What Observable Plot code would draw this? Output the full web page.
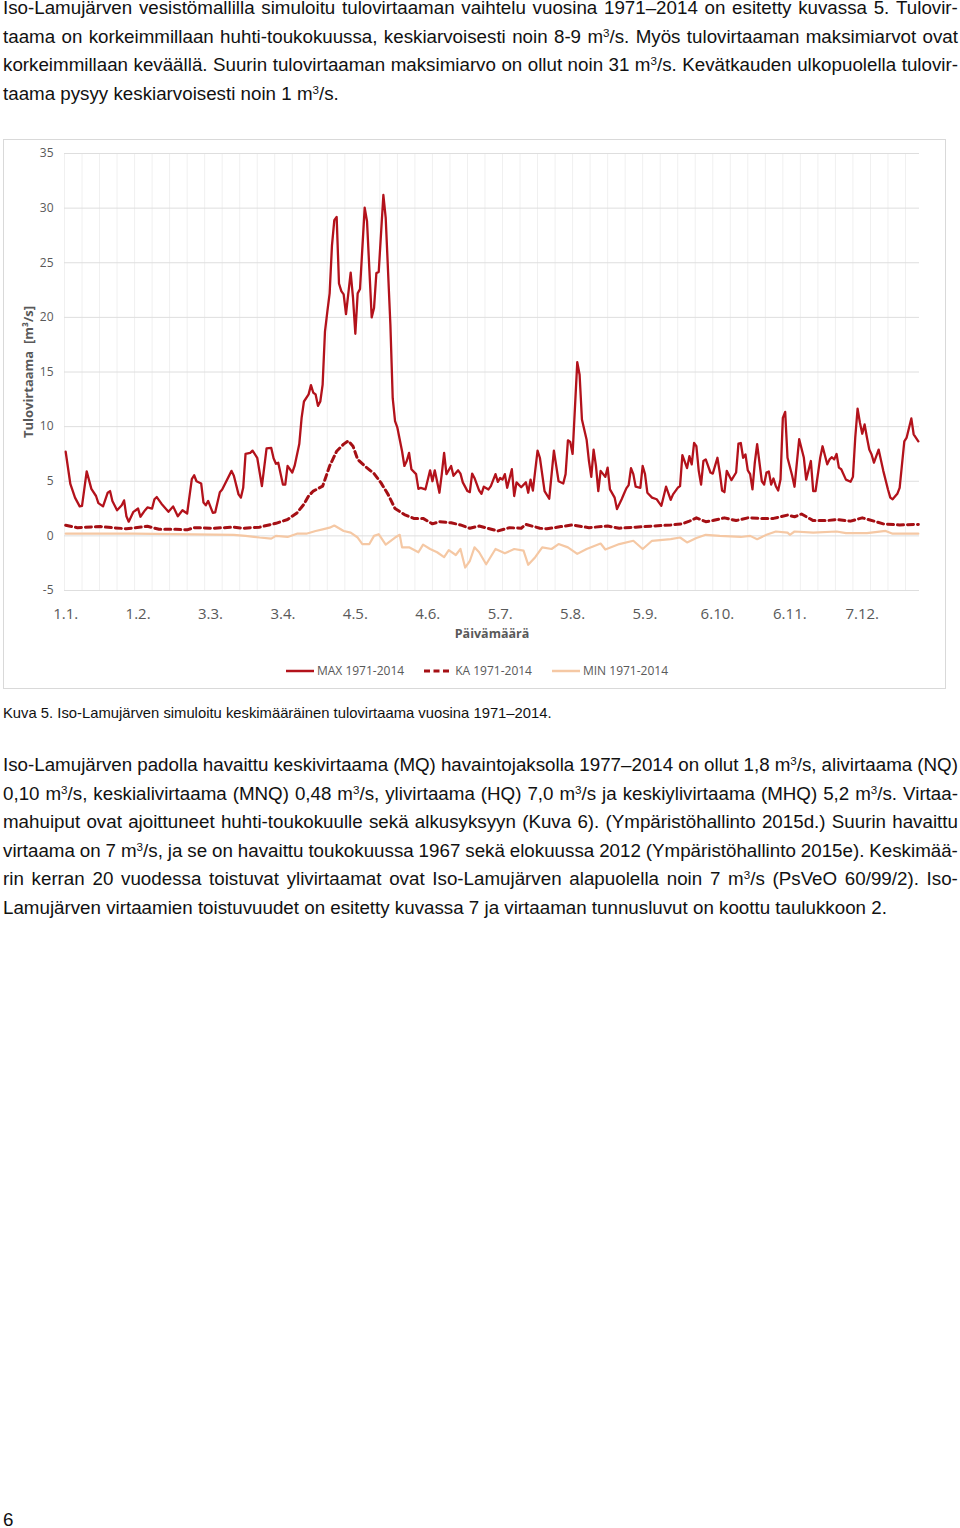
<!DOCTYPE html>
<html><head><meta charset="utf-8">
<script src="https://cdn.jsdelivr.net/npm/d3@7"></script>
<script src="https://cdn.jsdelivr.net/npm/@observablehq/plot@0.6"></script>
<style>
html,body{margin:0;padding:0;background:#fff;}
body{width:960px;height:1528px;position:relative;overflow:hidden;font-family:"Liberation Sans",Arial,sans-serif;color:#111;}
.ln{position:absolute;left:3px;width:955px;font-size:18.75px;line-height:20px;white-space:nowrap;}
.ln.j{display:flex;justify-content:space-between;}
.ln.cap{font-size:14.8px;line-height:17px;}
sup{font-size:0.62em;line-height:0;vertical-align:0.55em;}
#chartbox{position:absolute;left:2.5px;top:138.5px;width:943px;height:550px;box-sizing:border-box;border:1px solid #d9d9d9;}
#chart{position:absolute;left:0;top:0;}
#legend{position:absolute;left:6px;right:0;top:523px;height:16px;display:flex;justify-content:center;align-items:center;font-family:"Open Sans",sans-serif;font-size:12px;color:#595959;}
.item{display:flex;align-items:center;margin:0 10px;}
.item svg{margin-right:3px;}
</style>
</head><body>
<div id="chartbox"><div id="chart"></div><div id="legend"></div></div>
<script>
// ---- Data ----
const tickDays = [0, 31, 62, 93, 124, 155, 186, 217, 248, 279, 310, 341];
const tickLabels = ["1.1.", "1.2.", "3.3.", "3.4.", "4.5.", "4.6.", "5.7.", "5.8.", "5.9.", "6.10.", "6.11.", "7.12."];
const yTicks = [-5, 0, 5, 10, 15, 20, 25, 30, 35];
const seriesNames = ["MAX 1971-2014", "KA 1971-2014", "MIN 1971-2014"];
const yTitle = "Tulovirtaama\u00a0 [m³/s]";
const xTitle = "Päivämäärä";

const maxDay = [
 0, 2, 4, 6, 7, 9, 11, 13, 14, 16,
 18, 19, 20, 22, 24, 25, 26, 27, 29, 30,
 31, 32, 34, 35, 37, 38, 39, 41, 44, 46,
 48, 50, 52, 54, 55, 56, 58, 59, 60, 61,
 63, 64, 66, 67, 71, 72, 74, 75, 76, 77,
 79, 80, 82, 84, 86, 88, 89, 90, 91, 93,
 94, 95, 97, 98, 100, 101, 102, 104, 105, 106,
 107, 108, 109, 110, 111, 112, 113, 114, 115, 116,
 117, 118, 119, 120, 122, 123, 124, 125, 126, 128,
 129, 131, 132, 133, 134, 136, 137, 139, 140, 141,
 142, 144, 145, 146, 147, 148, 150, 151, 152, 154,
 156, 157, 158, 160, 161, 162, 163, 165, 166, 168,
 169, 170, 172, 173, 174, 175, 177, 178, 179, 181,
 182, 184, 185, 186, 187, 188, 189, 191, 192, 193,
 195, 197, 198, 199, 200, 202, 203, 205, 207, 209,
 211, 213, 214, 215, 216, 217, 219, 220, 221, 223,
 224, 225, 226, 227, 228, 229, 231, 232, 233, 235,
 236, 238, 239, 240, 241, 242, 243, 244, 246, 247,
 248, 249, 251, 253, 254, 255, 257, 259, 260, 262,
 263, 264, 266, 267, 268, 269, 270, 271, 272, 273,
 274, 276, 277, 279, 280, 281, 282, 283, 285, 287,
 288, 289, 290, 291, 292, 293, 294, 295, 296, 298,
 299, 300, 301, 302, 303, 304, 305, 306, 307, 308,
 309, 311, 312, 314, 316, 317, 319, 320, 321, 323,
 324, 326, 327, 328, 329, 330, 331, 332, 334, 336,
 337, 338, 339, 340, 341, 342, 343, 344, 345, 346,
 348, 350, 352, 353, 354, 356, 357, 359, 360, 362,
 363, 365];
const maxFlow = [
 7.7, 4.75, 3.5, 2.7, 2.75, 5.9, 4.3, 3.65, 3.0, 2.7,
 3.95, 4.1, 3.2, 2.35, 2.8, 3.25, 1.8, 1.3, 2.2, 2.35,
 2.5, 1.75, 2.35, 2.6, 2.5, 3.35, 3.55, 2.95, 2.2, 2.7,
 1.8, 2.35, 2.05, 5.2, 5.55, 5.0, 4.8, 3.05, 2.8, 3.2,
 2.1, 2.15, 4.0, 4.25, 5.95, 5.5, 3.8, 3.5, 4.4, 7.5,
 7.6, 7.8, 7.15, 4.55, 8.0, 8.05, 7.1, 6.6, 6.7, 4.7,
 4.7, 6.4, 5.8, 6.4, 8.4, 10.8, 12.3, 12.95, 13.8, 13.1,
 12.95, 11.9, 12.3, 13.85, 18.7, 20.5, 22.2, 26.6, 28.9, 29.2,
 23.1, 22.4, 22.1, 20.3, 24.1, 21.8, 18.5, 22.2, 22.6, 30.05,
 28.8, 20.0, 20.85, 24.05, 24.15, 31.2, 29.1, 19.35, 12.6, 10.5,
 9.9, 7.75, 6.4, 6.85, 7.6, 6.1, 5.65, 4.3, 4.4, 4.25,
 6.0, 5.0, 6.0, 3.95, 5.65, 7.6, 5.65, 6.4, 5.5, 6.0,
 5.7, 4.9, 4.1, 4.0, 5.7, 5.3, 4.15, 3.85, 4.5, 4.25,
 4.55, 5.65, 4.95, 5.3, 5.15, 5.65, 4.4, 6.1, 3.65, 4.9,
 4.45, 4.9, 3.95, 5.15, 4.15, 7.8, 7.15, 4.1, 3.4, 7.8,
 5.0, 4.8, 5.65, 8.75, 8.6, 7.5, 15.9, 14.75, 10.65, 8.8,
 6.85, 5.4, 7.9, 6.4, 4.1, 5.95, 5.4, 6.25, 4.25, 3.5,
 2.45, 3.35, 3.85, 4.35, 4.65, 6.2, 5.65, 4.5, 4.4, 6.4,
 5.65, 3.95, 3.5, 3.35, 3.05, 2.75, 4.5, 3.3, 3.8, 4.4,
 4.55, 7.4, 6.2, 7.3, 6.55, 8.5, 8.2, 5.95, 4.7, 6.85,
 7.0, 5.8, 5.7, 7.15, 5.8, 4.15, 4.0, 5.95, 5.1, 5.8,
 8.45, 8.5, 7.15, 7.45, 6.0, 5.65, 4.25, 6.7, 8.4, 5.0,
 4.7, 5.8, 5.9, 4.7, 5.25, 4.55, 4.15, 5.15, 10.8, 11.35,
 7.15, 5.5, 4.5, 8.85, 7.15, 5.15, 6.85, 4.1, 4.1, 7.15,
 8.2, 6.55, 7.0, 7.2, 7.0, 7.5, 6.25, 6.1, 5.15, 4.95,
 5.4, 9.0, 11.65, 10.35, 9.35, 10.2, 9.0, 7.9, 7.45, 6.7,
 7.9, 5.95, 4.25, 3.5, 3.35, 3.85, 4.4, 8.65, 9.0, 10.75,
 9.3, 8.65];

const kaDay = [
 0, 5, 15, 20, 26, 35, 40, 47, 52, 55,
 63, 72, 76, 83, 90, 95, 99, 102, 104, 106,
 110, 111, 113, 116, 119, 121, 123, 125, 128, 132,
 135, 138, 141, 145, 149, 153, 157, 160, 165, 169,
 173, 177, 185, 190, 195, 197, 203, 206, 212, 217,
 224, 232, 237, 244, 252, 259, 264, 267, 270, 274,
 277, 282, 287, 292, 297, 303, 309, 312, 315, 320,
 326, 330, 336, 341, 346, 350, 357, 365];
const kaFlow = [
 0.97, 0.75, 0.85, 0.75, 0.65, 0.88, 0.6, 0.6, 0.55, 0.75,
 0.7, 0.8, 0.7, 0.8, 1.15, 1.5, 2.1, 2.9, 3.65, 4.1,
 4.55, 5.15, 6.4, 7.75, 8.4, 8.7, 8.2, 7.0, 6.4, 5.7,
 4.85, 3.8, 2.5, 1.95, 1.6, 1.6, 1.1, 1.3, 1.2, 1.0,
 0.7, 0.9, 0.45, 0.75, 0.7, 1.05, 0.7, 0.65, 0.85, 1.0,
 0.75, 0.9, 0.7, 0.8, 0.9, 1.0, 1.1, 1.35, 1.65, 1.3,
 1.4, 1.65, 1.4, 1.65, 1.6, 1.6, 1.9, 1.75, 2.0, 1.4,
 1.4, 1.5, 1.35, 1.65, 1.35, 1.1, 1.0, 1.05];

const minDay = [
 0, 29, 72, 77, 83, 88, 90, 95, 99, 103,
 107, 110, 113, 115, 119, 122, 125, 127, 130, 132,
 134, 137, 141, 143, 144, 147, 151, 153, 156, 159,
 162, 164, 167, 169, 171, 173, 175, 177, 180, 184,
 188, 192, 196, 198, 201, 204, 208, 211, 215, 219,
 223, 229, 231, 237, 243, 247, 251, 259, 263, 266,
 270, 274, 280, 289, 293, 296, 300, 304, 309, 310,
 312, 320, 330, 334, 343, 351, 354, 365];
const minFlow = [
 0.2, 0.2, 0.1, 0.0, -0.15, -0.25, 0.0, -0.1, 0.2, 0.2,
 0.45, 0.6, 0.75, 0.95, 0.45, 0.3, -0.15, -0.75, -0.75, 0.0,
 0.15, -0.8, -0.15, 0.1, -1.05, -1.05, -1.5, -0.8, -1.2, -1.5,
 -1.95, -1.3, -1.75, -1.2, -2.9, -2.3, -1.05, -1.5, -2.6, -1.2,
 -1.6, -1.2, -1.35, -2.65, -1.95, -1.05, -1.2, -0.75, -1.05, -1.65,
 -1.2, -0.7, -1.25, -0.75, -0.45, -1.2, -0.45, -0.3, -0.15, -0.6,
 -0.2, 0.1, 0.0, -0.1, 0.0, -0.3, 0.1, 0.4, 0.3, 0.1,
 0.4, 0.3, 0.4, 0.25, 0.25, 0.45, 0.2, 0.2];

const colors = ["#b3121b", "#a50f14", "#f5c8a4"];

// ---- Page text ----
const para1 = [
 "Iso-Lamujärven vesistömallilla simuloitu tulovirtaaman vaihtelu vuosina 1971–2014 on esitetty kuvassa 5. Tulovir-",
 "taama on korkeimmillaan huhti-toukokuussa, keskiarvoisesti noin 8-9 m<sup>3</sup>/s. Myös tulovirtaaman maksimiarvot ovat",
 "korkeimmillaan keväällä. Suurin tulovirtaaman maksimiarvo on ollut noin 31 m<sup>3</sup>/s. Kevätkauden ulkopuolella tulovir-",
 "taama pysyy keskiarvoisesti noin 1 m<sup>3</sup>/s."
];
const caption = "Kuva 5. Iso-Lamujärven simuloitu keskimääräinen tulovirtaama vuosina 1971–2014.";
const para2 = [
 "Iso-Lamujärven padolla havaittu keskivirtaama (MQ) havaintojaksolla 1977–2014 on ollut 1,8 m<sup>3</sup>/s, alivirtaama (NQ)",
 "0,10 m<sup>3</sup>/s, keskialivirtaama (MNQ) 0,48 m<sup>3</sup>/s, ylivirtaama (HQ) 7,0 m<sup>3</sup>/s ja keskiylivirtaama (MHQ) 5,2 m<sup>3</sup>/s. Virtaa-",
 "mahuiput ovat ajoittuneet huhti-toukokuulle sekä alkusyksyyn (Kuva 6). (Ympäristöhallinto 2015d.) Suurin havaittu",
 "virtaama on 7 m<sup>3</sup>/s, ja se on havaittu toukokuussa 1967 sekä elokuussa 2012 (Ympäristöhallinto 2015e). Keskimää-",
 "rin kerran 20 vuodessa toistuvat ylivirtaamat ovat Iso-Lamujärven alapuolella noin 7 m<sup>3</sup>/s (PsVeO 60/99/2). Iso-",
 "Lamujärven virtaamien toistuvuudet on esitetty kuvassa 7 ja virtaaman tunnusluvut on koottu taulukkoon 2."
];
const pageNumber = "6";

function addLine(html, top, justify, extra) {
  const div = document.createElement("div");
  div.className = "ln" + (justify ? " j" : "") + (extra ? " " + extra : "");
  div.style.top = top + "px";
  if (justify) {
    html.split(" ").forEach(w => {
      const s = document.createElement("span");
      s.innerHTML = w;
      div.appendChild(s);
    });
  } else {
    div.innerHTML = html;
  }
  document.body.appendChild(div);
}
const p1Top = [-1.8, 26.7, 55.2, 83.7];
para1.forEach((t, i) => addLine(t, p1Top[i], i < para1.length - 1));
addLine(caption, 705, false, "cap");
const p2Top = [755, 783.5, 812, 840.5, 869, 897.5];
para2.forEach((t, i) => addLine(t, p2Top[i], i < para2.length - 1));
addLine(pageNumber, 1509.5, false);

// ---- Chart ----
const toRows = (days, vals) => days.map((d, i) => ({day: d, flow: vals[i]}));
const maxData = toRows(maxDay, maxFlow);
const kaData = toRows(kaDay, kaFlow);
const minData = toRows(minDay, minFlow);
const labelOf = new Map(tickDays.map((d, i) => [d, tickLabels[i]]));
const gridDays = d3.range(-0.5, 365, 7.5);

const chart = Plot.plot({
  width: 941, height: 520,
  marginLeft: 60, marginRight: 26, marginTop: 13, marginBottom: 70,
  style: {fontFamily: "'Open Sans', sans-serif", color: "#595959", background: "transparent", overflow: "visible"},
  x: {domain: [-0.5, 365.5], label: null},
  y: {domain: [-5, 35], label: null},
  marks: [
    Plot.ruleX(gridDays, {stroke: "#f0f0f0", strokeWidth: 1}),
    Plot.ruleY(yTicks, {stroke: "#dedede", strokeWidth: 1}),
    Plot.axisY(yTicks, {tickSize: 0, tickPadding: 11, fontSize: 12, tickFormat: d => String(d), label: null}),
    Plot.axisX(tickDays, {tickSize: 0, tickPadding: 18, fontSize: 15, tickFormat: d => labelOf.get(d), label: null}),
    Plot.line(minData, {x: "day", y: "flow", stroke: colors[2], strokeWidth: 2.2, strokeLinejoin: "round"}),
    Plot.line(kaData, {x: "day", y: "flow", stroke: colors[1], strokeWidth: 3, strokeDasharray: "6,4", strokeLinejoin: "round"}),
    Plot.line(maxData, {x: "day", y: "flow", stroke: colors[0], strokeWidth: 2.3, strokeLinejoin: "round"}),
    Plot.text([yTitle], {text: d => d, frameAnchor: "left", textAnchor: "middle", rotate: -90, dx: -36, fontWeight: "bold", fontSize: 13, fill: "#595959"}),
    Plot.text([xTitle], {text: d => d, frameAnchor: "bottom", dy: 47, fontWeight: "bold", fontSize: 12.5, fill: "#595959"})
  ]
});
document.getElementById("chart").appendChild(chart);

// ---- Legend ----
const dashes = [null, "6,3.5", null];
const legend = document.getElementById("legend");
seriesNames.forEach((name, i) => {
  const item = document.createElement("div");
  item.className = "item";
  const sw = i === 1 ? 3 : 2.5;
  item.innerHTML = `<svg width="28" height="10"><line x1="0" y1="5" x2="28" y2="5" stroke="${colors[i]}" stroke-width="${sw}"${dashes[i] ? ` stroke-dasharray="${dashes[i]}"` : ""}/></svg><span>${name}</span>`;
  legend.appendChild(item);
});
</script>
</body></html>
